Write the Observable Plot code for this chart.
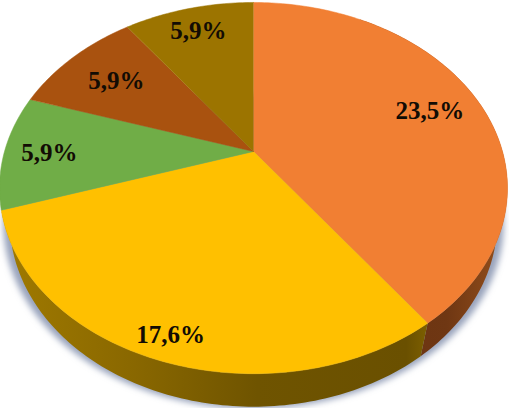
<!DOCTYPE html>
<html>
<head>
<meta charset="utf-8">
<style>html,body{margin:0;padding:0;background:#fff}svg{display:block}</style>
<script src="https://cdn.jsdelivr.net/npm/d3@7"></script>
<script src="https://cdn.jsdelivr.net/npm/@observablehq/plot@0.6"></script>
</head>
<body>
<div id="chart"></div>
<script>
// Slice data (the drawn shares are 4:3:1:1:1, the labels are the printed ones)
const categories = ["A", "B", "C", "D", "E"];
const shares = [40, 30, 10, 10, 10];
const labels = ["23,5%", "17,6%", "5,9%", "5,9%", "5,9%"];
const topColors = ["#f17f33", "#ffc000", "#70ad47", "#a9520f", "#9c7400"];
const labelRadius = [0.79, 0.875, 0.82, 0.76, 0.85];

// 3D view of the disc
const radiusX = 249, radiusY = 178.4, perspective = 0.197;
const wallDepth = 33, wallShrink = 0.96;

function rim(deg) {
  const a = deg * Math.PI / 180, u = Math.sin(a), v = -Math.cos(a);
  const s = 1 / (1 - perspective * v);
  return [radiusX * u * s, radiusY * v * s];
}
const lowerRim = (deg, shrink = wallShrink, depth = wallDepth) => {
  const [x, y] = rim(deg);
  return [x * shrink, y + depth];
};
const arc = (a0, a1, f) => d3.range(0, 1.0001, 1 / Math.max(2, Math.ceil(Math.abs(a1 - a0)))).map(t => f(a0 + (a1 - a0) * t));

const total = d3.sum(shares);
let acc = 0;
const slices = shares.map((v, i) => {
  const a0 = acc / total * 360; acc += v;
  return {i, a0, a1: acc / total * 360, mid: (a0 + acc / total * 360) / 2};
});

const toRows = pts => pts.map(([x, y]) => ({x, y}));
const poly = (pts, options) => Plot.line(toRows(pts), {x: "x", y: "y", stroke: "none", ...options});
const withFilter = id => (index, scales, values, dimensions, context, next) => {
  const g = next(index, scales, values, dimensions, context);
  g.setAttribute("filter", `url(#${id})`);
  return g;
};

const defs = () => {
  const ns = "http://www.w3.org/2000/svg";
  const d = document.createElementNS(ns, "defs");
  d.innerHTML = `
    <filter id="blur" x="-10%" y="-10%" width="120%" height="120%"><feGaussianBlur stdDeviation="3"/></filter>
    <linearGradient id="wallYellow" x1="0" x2="1" y1="0" y2="0">
      <stop offset="0" stop-color="#a07a00"/>
      <stop offset="0.3" stop-color="#8a6800"/>
      <stop offset="0.6" stop-color="#6f5400"/>
      <stop offset="0.95" stop-color="#6a5000"/>
      <stop offset="1" stop-color="#7d5f00"/>
    </linearGradient>
    <linearGradient id="wallOrange" x1="0" x2="1" y1="0" y2="0">
      <stop offset="0" stop-color="#6a3210"/>
      <stop offset="0.6" stop-color="#6f3713"/>
      <stop offset="1" stop-color="#96501c"/>
    </linearGradient>`;
  return d;
};

const marks = [
  defs,
  // soft shadow below the rim
  poly([...arc(55, 305, d => lowerRim(d, 0.985, wallDepth + 2))], {fill: "#98a3bb", render: withFilter("blur")}),
  // side wall
  poly([...arc(slices[0].a0 + 30, slices[0].a1, d => rim(d)), ...arc(slices[0].a1, slices[0].a0 + 30, d => lowerRim(d))], {fill: "url(#wallOrange)"}),
  poly([...arc(slices[1].a0, slices[1].a1, d => rim(d)), ...arc(slices[1].a1, slices[1].a0, d => lowerRim(d))], {fill: "url(#wallYellow)"}),
  // top face
  ...slices.map(s => poly([[0, 0], ...arc(s.a0, s.a1, d => rim(d))], {fill: topColors[s.i], stroke: topColors[s.i], strokeWidth: 0.5})),
  // labels
  Plot.text(slices, {
    x: s => rim(s.mid)[0] * labelRadius[s.i],
    y: s => rim(s.mid)[1] * labelRadius[s.i],
    dy: 1,
    text: s => labels[s.i],
    fill: "#120c04",
    fontSize: 25,
    fontWeight: "bold",
    fontFamily: "Liberation Serif"
  })
];

const chart = Plot.plot({
  width: 509,
  height: 408,
  margin: 0,
  x: {domain: [-253, 256], axis: null},
  y: {domain: [-151, 257], reverse: true, axis: null},
  style: {background: "#fff"},
  marks
});
document.getElementById("chart").append(chart);
</script>
</body>
</html>
